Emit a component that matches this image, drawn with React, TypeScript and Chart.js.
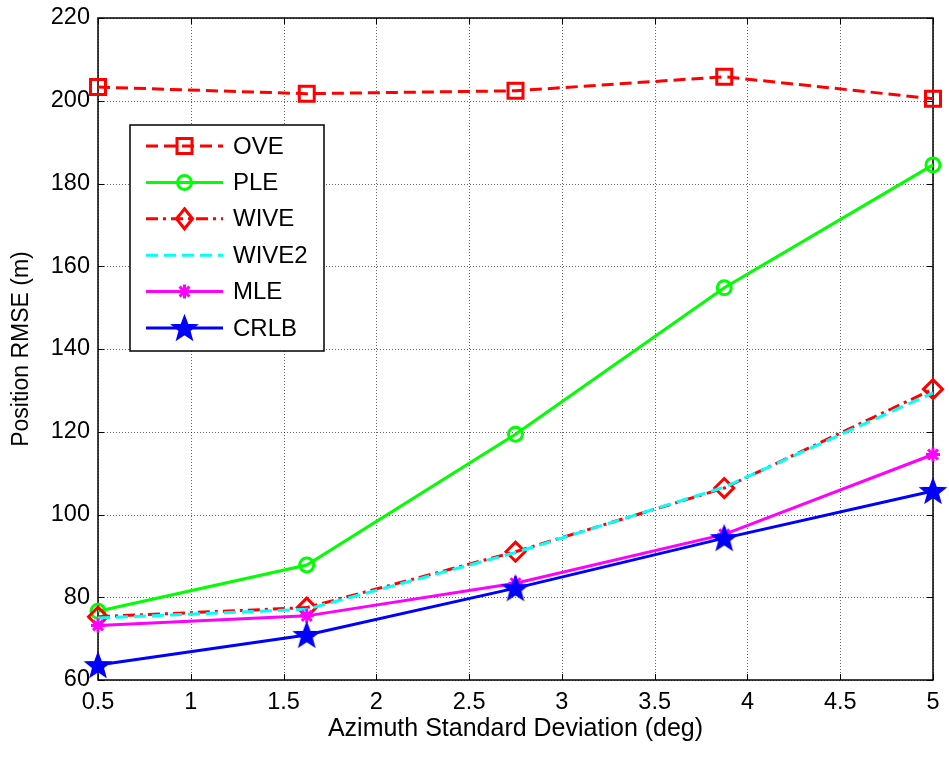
import React, { useEffect, useRef } from 'react';
import { Chart, registerables } from 'chart.js';

Chart.register(...registerables);

const xValues = [0.5, 1.625, 2.75, 3.875, 5];
const oveValues = [203.3, 201.7, 202.4, 205.8, 200.5];
const pleValues = [76.6, 87.8, 119.4, 154.8, 184.5];
const wiveValues = [75.3, 77.5, 91.0, 106.4, 130.3];
const wive2Values = [75.0, 77.1, 90.8, 106.6, 129.4];
const mleValues = [73.2, 75.5, 83.4, 95.2, 114.5];
const crlbValues = [63.6, 70.9, 82.2, 94.3, 105.7];

const xTicks = [0.5, 1, 1.5, 2, 2.5, 3, 3.5, 4, 4.5, 5];
const yTicks = [60, 80, 100, 120, 140, 160, 180, 200, 220];

const xTitle = 'Azimuth Standard Deviation (deg)';
const yTitle = 'Position RMSE (m)';

const FONT = "'Liberation Sans', Arial, sans-serif";

type Item = { label: string; color: string; dash: number[]; marker: string };
const legendItems: Item[] = [
  { label: 'OVE', color: '#ff0000', dash: [12, 6], marker: 'square' },
  { label: 'PLE', color: '#00ff00', dash: [], marker: 'circle' },
  { label: 'WIVE', color: '#ff0000', dash: [12, 5, 3, 5], marker: 'diamond' },
  { label: 'WIVE2', color: '#00ffff', dash: [12, 6], marker: 'none' },
  { label: 'MLE', color: '#ff00ff', dash: [], marker: 'asterisk' },
  { label: 'CRLB', color: '#0000ff', dash: [], marker: 'pentagram' },
];

function pentagramPath(g: CanvasRenderingContext2D, cx: number, cy: number, R: number) {
  g.beginPath();
  for (let k = 0; k < 10; k++) {
    const r = k % 2 === 0 ? R : R * 0.42;
    const a = -Math.PI / 2 + (k * Math.PI) / 5;
    const px = cx + r * Math.cos(a);
    const py = cy + r * Math.sin(a);
    if (k === 0) g.moveTo(px, py);
    else g.lineTo(px, py);
  }
  g.closePath();
}

function makeStar(color: string, R: number) {
  const c = document.createElement('canvas');
  const s = Math.ceil(R * 2 + 4);
  c.width = s;
  c.height = s;
  const g = c.getContext('2d')!;
  g.fillStyle = color;
  g.strokeStyle = color;
  g.lineWidth = 1.5;
  pentagramPath(g, s / 2, s / 2 + 1, R);
  g.fill();
  g.stroke();
  return c;
}

function drawMarker(ctx: CanvasRenderingContext2D, marker: string, color: string, x: number, y: number) {
  ctx.save();
  ctx.setLineDash([]);
  ctx.strokeStyle = color;
  ctx.fillStyle = color;
  ctx.lineWidth = 3;
  if (marker === 'square') {
    const h = 7.5;
    ctx.strokeRect(x - h, y - h, 2 * h, 2 * h);
  } else if (marker === 'circle') {
    ctx.beginPath();
    ctx.arc(x, y, 7, 0, Math.PI * 2);
    ctx.stroke();
  } else if (marker === 'diamond') {
    const r = 10;
    ctx.beginPath();
    ctx.moveTo(x, y - r);
    ctx.lineTo(x + r * 0.8, y);
    ctx.lineTo(x, y + r);
    ctx.lineTo(x - r * 0.8, y);
    ctx.closePath();
    ctx.stroke();
  } else if (marker === 'asterisk') {
    const r = 7;
    ctx.beginPath();
    for (let k = 0; k < 4; k++) {
      const a = (k * Math.PI) / 4;
      ctx.moveTo(x - r * Math.cos(a), y - r * Math.sin(a));
      ctx.lineTo(x + r * Math.cos(a), y + r * Math.sin(a));
    }
    ctx.stroke();
  } else if (marker === 'pentagram') {
    ctx.lineWidth = 1.5;
    pentagramPath(ctx, x, y + 1, 13);
    ctx.fill();
    ctx.stroke();
  }
  ctx.restore();
}

const framePlugin = {
  id: 'matlabFrame',
  beforeDatasetsDraw(chart: any) {
    const { ctx, chartArea: a, scales } = chart;
    ctx.save();
    ctx.strokeStyle = 'rgba(0,0,0,0.6)';
    ctx.lineWidth = 1;
    ctx.setLineDash([1, 2]);
    ctx.beginPath();
    for (const v of xTicks) {
      const x = Math.round(scales.x.getPixelForValue(v)) + 0.5;
      ctx.moveTo(x, a.top);
      ctx.lineTo(x, a.bottom);
    }
    for (const v of yTicks) {
      const y = Math.round(scales.y.getPixelForValue(v)) + 0.5;
      ctx.moveTo(a.left, y);
      ctx.lineTo(a.right, y);
    }
    ctx.stroke();
    ctx.setLineDash([]);
    ctx.strokeStyle = '#000';
    ctx.lineWidth = 1.5;
    ctx.strokeRect(a.left, a.top, a.right - a.left, a.bottom - a.top);
    ctx.lineWidth = 1;
    const tl = 6;
    ctx.beginPath();
    for (const v of xTicks) {
      const x = Math.round(scales.x.getPixelForValue(v)) + 0.5;
      ctx.moveTo(x, a.bottom);
      ctx.lineTo(x, a.bottom - tl);
      ctx.moveTo(x, a.top);
      ctx.lineTo(x, a.top + tl);
    }
    for (const v of yTicks) {
      const y = Math.round(scales.y.getPixelForValue(v)) + 0.5;
      ctx.moveTo(a.left, y);
      ctx.lineTo(a.left + tl, y);
      ctx.moveTo(a.right, y);
      ctx.lineTo(a.right - tl, y);
    }
    ctx.stroke();
    ctx.restore();
  },
  afterDraw(chart: any) {
    const { ctx } = chart;
    ctx.save();
    const bx = 130, by = 125, bw = 194, bh = 226;
    ctx.fillStyle = '#fff';
    ctx.fillRect(bx, by, bw, bh);
    ctx.strokeStyle = '#000';
    ctx.lineWidth = 1.5;
    ctx.setLineDash([]);
    ctx.strokeRect(bx, by, bw, bh);
    ctx.font = `24px ${FONT}`;
    ctx.textBaseline = 'middle';
    ctx.textAlign = 'left';
    legendItems.forEach((it, i) => {
      const cy = 146 + i * 36.4;
      ctx.save();
      ctx.strokeStyle = it.color;
      ctx.lineWidth = 3;
      ctx.setLineDash(it.dash);
      ctx.beginPath();
      ctx.moveTo(146, cy);
      ctx.lineTo(223, cy);
      ctx.stroke();
      ctx.restore();
      drawMarker(ctx, it.marker, it.color, 184.5, cy);
      ctx.fillStyle = '#000';
      ctx.fillText(it.label, 233, cy + 1);
    });
    ctx.restore();
  },
};

export default function App() {
  const ref = useRef<HTMLCanvasElement | null>(null);

  useEffect(() => {
    if (!ref.current) return;
    const star = makeStar('#0000ff', 13);
    const toPts = (ys: number[]) => xValues.map((x, i) => ({ x, y: ys[i] }));
    const common = {
      borderWidth: 3,
      pointBorderWidth: 3,
      pointBackgroundColor: 'rgba(0,0,0,0)',
      fill: false,
      tension: 0,
      clip: false as any,
    };
    const chart = new Chart(ref.current, {
      type: 'line',
      data: {
        datasets: [
          {
            ...common,
            label: 'OVE',
            data: toPts(oveValues),
            borderColor: '#ff0000',
            borderDash: [12, 6],
            pointStyle: 'rect',
            pointRadius: 10.6,
            pointBorderColor: '#ff0000',
            order: 5,
          },
          {
            ...common,
            label: 'PLE',
            data: toPts(pleValues),
            borderColor: '#00ff00',
            pointStyle: 'circle',
            pointRadius: 7,
            pointBorderColor: '#00ff00',
            order: 4,
          },
          {
            ...common,
            label: 'WIVE',
            data: toPts(wiveValues),
            borderColor: '#ff0000',
            borderDash: [12, 5, 3, 5],
            pointStyle: 'rectRot',
            pointRadius: 9.5,
            pointBorderColor: '#ff0000',
            order: 3,
          },
          {
            ...common,
            label: 'WIVE2',
            data: toPts(wive2Values),
            borderColor: '#00ffff',
            borderDash: [12, 6],
            pointRadius: 0,
            order: 2,
          },
          {
            ...common,
            label: 'MLE',
            data: toPts(mleValues),
            borderColor: '#ff00ff',
            pointStyle: 'star',
            pointRadius: 7,
            pointBorderColor: '#ff00ff',
            pointBackgroundColor: '#ff00ff',
            order: 1,
          },
          {
            ...common,
            label: 'CRLB',
            data: toPts(crlbValues),
            borderColor: '#0000ff',
            pointStyle: star as any,
            pointRadius: 13,
            pointBorderColor: '#0000ff',
            order: 0,
          },
        ],
      },
      options: {
        animation: false,
        responsive: false,
        events: [],
        layout: { padding: { top: 18, right: 14, left: 0, bottom: 0 } },
        plugins: {
          legend: { display: false },
          tooltip: { enabled: false },
        },
        scales: {
          x: {
            type: 'linear',
            min: 0.5,
            max: 5,
            afterBuildTicks: (s: any) => {
              s.ticks = xTicks.map((v) => ({ value: v }));
            },
            afterFit: (s: any) => {
              s.height = 78;
              s.paddingLeft = 0;
              s.paddingRight = 0;
            },
            border: { display: false },
            grid: { display: false, drawTicks: false, tickLength: 0 },
            ticks: {
              color: '#000',
              font: { family: FONT, size: 23.5, lineHeight: 1 },
              padding: 11,
              maxRotation: 0,
              autoSkip: false,
              callback: (v: any) => String(v),
            },
            title: {
              display: true,
              text: xTitle,
              color: '#000',
              font: { family: FONT, size: 25 },
              padding: { top: 0, bottom: 14 },
            },
          },
          y: {
            type: 'linear',
            min: 60,
            max: 220,
            afterBuildTicks: (s: any) => {
              s.ticks = yTicks.map((v) => ({ value: v }));
            },
            afterFit: (s: any) => {
              s.width = 98;
              s.paddingTop = 0;
              s.paddingBottom = 0;
            },
            border: { display: false },
            grid: { display: false, drawTicks: false, tickLength: 0 },
            ticks: {
              color: '#000',
              font: { family: FONT, size: 23.5, lineHeight: 1 },
              padding: 8,
              autoSkip: false,
              callback: (v: any) => String(v),
            },
            title: {
              display: true,
              text: yTitle,
              color: '#000',
              font: { family: FONT, size: 23 },
              padding: { top: 8, bottom: 0 },
            },
          },
        },
      },
      plugins: [framePlugin],
    } as any);
    return () => chart.destroy();
  }, []);

  return (
    <div style={{ position: 'absolute', left: 0, top: 0, width: 949, height: 758, background: '#fff' }}>
      <canvas ref={ref} width={949} height={758} style={{ display: 'block' }} />
    </div>
  );
}
